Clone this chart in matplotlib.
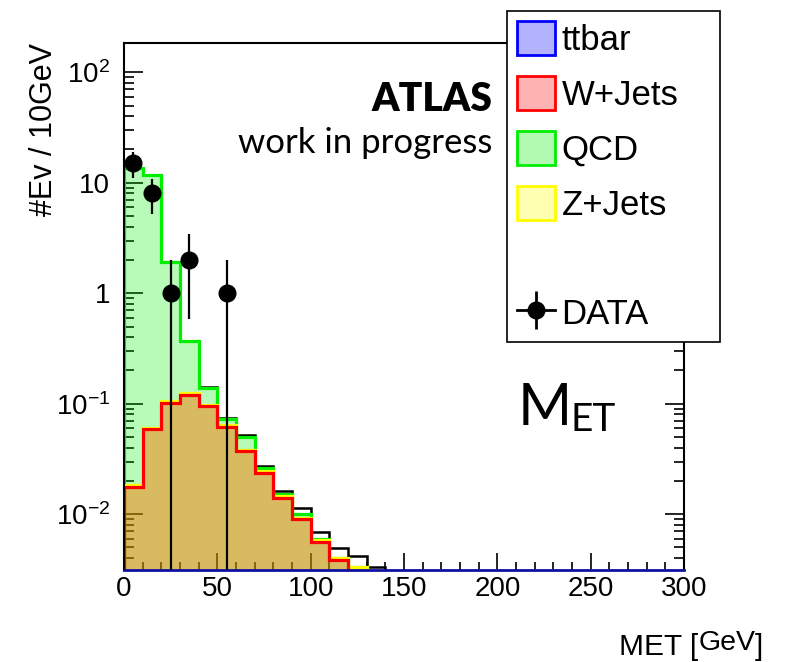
import numpy as np
import matplotlib
matplotlib.use("Agg")
import matplotlib.pyplot as plt
from matplotlib.patches import Patch
from matplotlib.lines import Line2D
from matplotlib.colors import to_rgba
from matplotlib.ticker import MultipleLocator, FixedLocator, LogLocator, NullFormatter

plt.rcParams['font.family'] = ['Liberation Sans', 'DejaVu Sans']
plt.rcParams['mathtext.fontset'] = 'custom'
plt.rcParams['mathtext.rm'] = 'Liberation Sans'
plt.rcParams['mathtext.it'] = 'Liberation Sans'

# MET binning: 10 GeV bins from 0 to 300
edges = np.arange(0, 310, 10)
nbins = len(edges) - 1

# per-process yields (events / 10 GeV), first bins only, rest are empty
ttbar = [0.0] * 13
wjets = [0.0175, 0.0586, 0.1025, 0.121, 0.0947, 0.0619, 0.0373, 0.0237,
         0.0141, 0.0090, 0.00564, 0.00385, 0.0025]
zjets = [0.0008, 0.002, 0.003, 0.004, 0.003, 0.002, 0.0012, 0.0008,
         0.0005, 0.0003, 0.0002, 0.00017, 0.0008]
qcd = [13.58, 11.64, 1.80, 0.241, 0.040, 0.0088, 0.0112, 0.0015,
       0.0005, 0.0007, 0.0001, 0.0, 0.0]
# extra black histogram (not in legend)
other = [13.6, 11.7, 1.90, 0.369, 0.1425, 0.0738, 0.0521, 0.0273,
         0.0162, 0.0113, 0.00695, 0.00491, 0.00421, 0.00333]

# data
data_x = [5, 15, 25, 35, 55]
data_n = [15, 8, 1, 2, 1]

ymin, ymax = 3.16e-3, 184


def pad(v):
    out = np.zeros(nbins)
    out[:len(v)] = v
    return out


h_tt = pad(ttbar)
h_w = h_tt + pad(wjets)
h_z = h_w + pad(zjets)
h_q = h_z + pad(qcd)
h_other = pad(other)

W, H = 799, 662
fig = plt.figure(figsize=(W / 100, H / 100), dpi=100)
ax = fig.add_axes([124 / W, 1 - 569.5 / H, 560 / W, 526.5 / H])
ax.set_yscale('log')

# extra histogram below the stack
ax.stairs(h_other, edges, baseline=1e-7, color='black', lw=1.8, zorder=1)

# stack drawn from the top down, like ROOT
stack = [(h_q, '#00ee00', 0.28), (h_z, '#ffff00', 0.28),
         (h_w, '#ff0000', 0.26), (h_tt, '#0000ff', 0.30)]
for vals, col, a in stack:
    ax.stairs(vals, edges, baseline=1e-7, fill=True,
              facecolor=to_rgba(col, a), edgecolor=col, lw=2.3, zorder=2)

# data points
n = np.array(data_n, dtype=float)
err = np.sqrt(n)
low = np.minimum(err, n - 1e-5)
ax.errorbar(data_x, n, yerr=[low, err], fmt='o', color='black', ms=12,
            elinewidth=1.6, capsize=0, zorder=5)

ax.set_xlim(0, 300)
ax.set_ylim(ymin, ymax)

ax.xaxis.set_major_locator(MultipleLocator(50))
ax.xaxis.set_minor_locator(MultipleLocator(10))
ax.yaxis.set_major_locator(FixedLocator([1e-2, 1e-1, 1, 10, 100]))
ax.set_yticklabels(['$10^{-2}$', '$10^{-1}$', '1', '10', '$10^{2}$'])
ax.yaxis.set_minor_locator(LogLocator(base=10, subs=np.arange(2, 10)))
ax.yaxis.set_minor_formatter(NullFormatter())
ax.tick_params(which='both', direction='in', right=True, top=False,
               labelsize=20, width=1.2)
ax.tick_params(axis='x', which='major', length=12, pad=5)
ax.tick_params(axis='x', which='minor', length=6)
ax.tick_params(axis='y', which='major', length=14, pad=10)
ax.tick_params(axis='y', which='minor', length=7)
for s in ax.spines.values():
    s.set_linewidth(1.5)
ax.spines['bottom'].set_color('#1010a0')
ax.spines['bottom'].set_linewidth(2)


def fx(x):
    return x / W


def fy(y):
    return 1 - y / H


# axis titles
fig.text(fx(44), fy(43), '#Ev / 10GeV', rotation=90, ha='center', va='top',
         fontsize=22)
t1 = fig.text(fx(619), fy(655), 'MET [', fontsize=21.5, ha='left',
              va='baseline')
t2 = fig.text(0, 0, 'GeV', fontsize=20.5, ha='left', va='baseline')
t3 = fig.text(0, 0, ']', fontsize=21.5, ha='left', va='baseline')
fig.canvas.draw()
r = fig.canvas.get_renderer()
bb = t1.get_window_extent(r)
t2.set_position((bb.x1 / W, fy(650)))
bb2 = t2.get_window_extent(r)
t3.set_position((bb2.x1 / W, fy(655)))

# labels in the plot
fig.text(fx(492), fy(111), 'ATLAS', fontsize=28, fontweight='heavy',
         family=['Lato', 'DejaVu Sans'], ha='right', va='baseline')
fig.text(fx(492), fy(153), 'work in progress', fontsize=25,
         family=['Lato', 'DejaVu Sans'], ha='right', va='baseline')
fig.text(fx(518), fy(425), 'M', fontsize=42,
         family=['Lato', 'DejaVu Sans'], ha='left', va='baseline')
fig.text(fx(571), fy(431), 'ET', fontsize=28,
         family=['Lato', 'DejaVu Sans'], ha='left', va='baseline')

# legend
handles = [
    Patch(facecolor=to_rgba('#0000ff', 0.3), edgecolor='#0000ff', lw=2),
    Patch(facecolor=to_rgba('#ff0000', 0.3), edgecolor='#ff0000', lw=2),
    Patch(facecolor=to_rgba('#00ee00', 0.3), edgecolor='#00ee00', lw=2),
    Patch(facecolor=to_rgba('#ffff00', 0.3), edgecolor='#ffff00', lw=2),
    Patch(facecolor='none', edgecolor='none'),
    (Line2D([0], [0], color='black', lw=2),
     Line2D([0], [0], marker='|', ms=27, mew=2, color='black', ls='none'),
     Line2D([0], [0], marker='o', ms=12, color='black', ls='none')),
]
labels = ['ttbar', 'W+Jets', 'QCD', 'Z+Jets', '', 'DATA']
leg = fig.legend(handles, labels, loc='upper left', mode='expand',
                 bbox_to_anchor=(507 / W, fy(343), 213 / W, 332 / H),
                 fontsize=25, frameon=True, fancybox=False, framealpha=1,
                 edgecolor='black', borderpad=0.3, handletextpad=0.2,
                 borderaxespad=0, labelspacing=0.56, handlelength=1.07,
                 handleheight=1.1)
leg.get_frame().set_linewidth(1.2)

fig.savefig('out.png', dpi=100)
